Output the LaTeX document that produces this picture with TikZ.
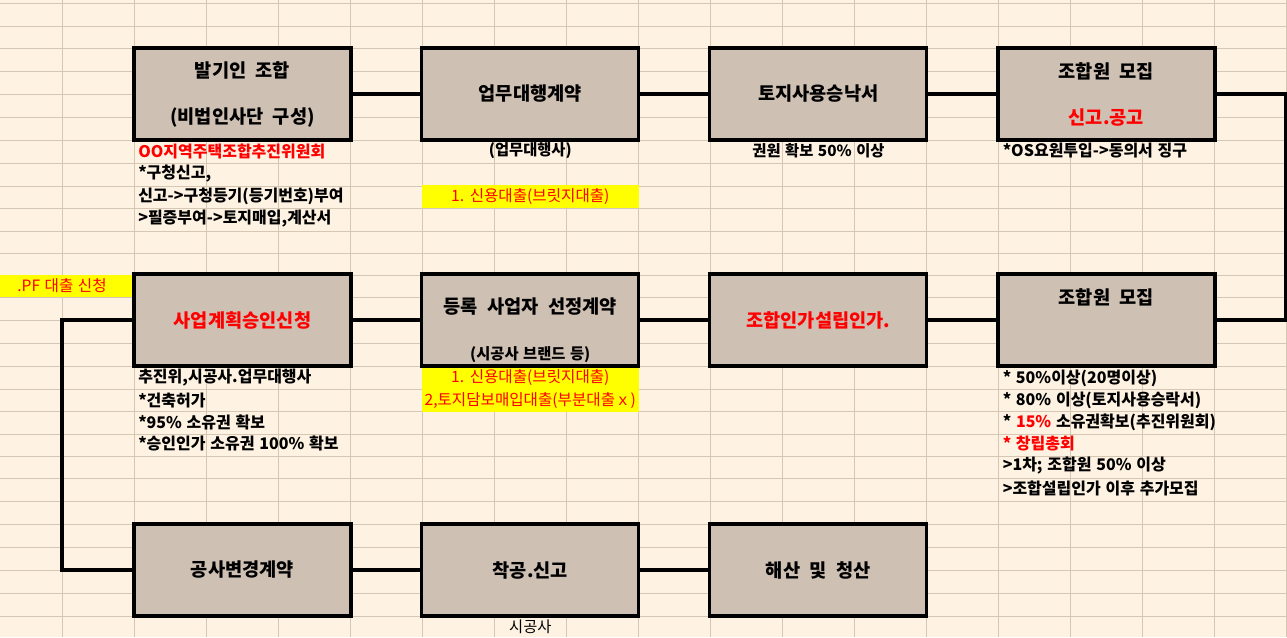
\documentclass[tikz,border=0pt]{standalone}
\usepackage{fontspec}
\setmainfont{Noto Sans CJK KR}[WordSpace=2.2]
\newfontfamily\notefont{Noto Sans CJK KR}[WordSpace=1.3]
\definecolor{bg}{HTML}{FEF2E2}
\definecolor{gridc}{HTML}{D6C7B5}
\definecolor{boxc}{HTML}{CFC0B4}
\definecolor{hlc}{HTML}{FFFF00}
\definecolor{redc}{HTML}{FF0000}
\tikzset{
  stepbox/.style={draw=black, line width=2.5pt, fill=boxc, minimum width=162.75pt, minimum height=69pt, inner sep=0pt},
  big/.style={font=\fontsize{14}{17}\selectfont\bfseries, inner sep=0pt},
  twoline/.style={align=center, font=\fontsize{14}{34.5}\selectfont\bfseries},
  small/.style={font=\notefont\fontsize{11.5}{13}\selectfont\bfseries, inner sep=0pt},
  note/.style={font=\notefont\fontsize{12}{14}\selectfont\bfseries, inner sep=0pt, anchor=west},
  loan/.style={font=\notefont\fontsize{11.7}{13}\selectfont, text=redc, inner sep=0pt},
  plain/.style={font=\notefont\fontsize{11.5}{13}\selectfont, inner sep=0pt},
  conn/.style={line width=2.4pt, line join=miter},
  gridline/.style={gridc, line width=0.75pt}
}
\begin{document}
\begin{tikzpicture}[x=0.75pt,y=-0.75pt]
\useasboundingbox (0,0) rectangle (1287,637);
\fill[bg] (0,0) rectangle (1287,637);
% spreadsheet grid
\foreach \k in {0,...,17} \draw[gridline] ({62+72.05*\k},0) -- ({62+72.05*\k},637);
\foreach \y in {3,26,48,71,94,117,140,163,186,208,231,253,275,297,320,343,366,389,411,434,456,478,501,524,547,570,593,616}
  \draw[gridline] (0,\y) -- (1287,\y);
% yellow cells
\fill[hlc] (422,185) rectangle (638.5,207.5);
\fill[hlc] (0,274.5) rectangle (134,297);
\fill[hlc] (422,367) rectangle (638.5,411.5);
% boxes row 1
\node[stepbox, twoline] (b11) at (242.5,94) {발기인 조합\\(비법인사단 구성)};
\node[stepbox, big] (b12) at (530.3,94) {업무대행계약};
\node[stepbox, big] (b13) at (818.3,94) {토지사용승낙서};
\node[stepbox, twoline] (b14) at (1106.4,94) {조합원 모집\\\textcolor{redc}{신고.공고}};
% boxes row 2
\node[stepbox, big, text=redc] (b21) at (242.5,320) {사업계획승인신청};
\node[stepbox] (b22) at (530.3,320) {};
\node[big] (t22a) at (530.3,306.5) {등록 사업자 선정계약};
\node[small] (t22b) at (530.3,355) {(시공사 브랜드 등)};
\node[stepbox, big, text=redc] (b23) at (818.3,320) {조합인가설립인가.};
\node[stepbox] (b24) at (1106.4,320) {};
\node[big] (t24) at (1106.4,297) {조합원 모집};
% boxes row 3
\node[stepbox, big] (b31) at (242.5,570) {공사변경계약};
\node[stepbox, big] (b32) at (530.3,570) {착공.신고};
\node[stepbox, big] (b33) at (818.3,570) {해산 및 청산};
% connectors
\coordinate (cR) at (1285.5,94);
\coordinate (cL) at (62,320);
\draw[conn] (b11.east) -- (b12.west);
\draw[conn] (b12.east) -- (b13.west);
\draw[conn] (b13.east) -- (b14.west);
\draw[conn] (b14.east) -- (cR) |- (b24.east);
\draw[conn] (b24.west) -- (b23.east);
\draw[conn] (b23.west) -- (b22.east);
\draw[conn] (b22.west) -- (b21.east);
\draw[conn] (b21.west) -- (cL) |- (b31.west);
\draw[conn] (b31.east) -- (b32.west);
\draw[conn] (b32.east) -- (b33.west);
% notes row 1
\node[note, text=redc] (n1a) at (138,151) {OO지역주택조합추진위원회};
\node[note] (n1b) at (138,174) {*구청신고,};
\node[note] (n1c) at (138,196.5) {신고->구청등기(등기번호)부여};
\node[note] (n1d) at (138,219) {>필증부여->토지매입,계산서};
\node[small] (n2) at (530.3,151) {(업무대행사)};
\node[loan] (l2) at (530.3,196.3) {1. 신용대출(브릿지대출)};
\node[small] (n3) at (818.5,151) {권원 확보 50\% 이상};
\node[note] (n4) at (1002.5,151) {*OS요원투입->동의서 징구};
% notes row 2
\node[loan] (pf) at (62,285.7) {.PF 대출 신청};
\node[note] (n5a) at (138,378) {추진위,시공사.업무대행사};
\node[note] (n5b) at (138,400) {*건축허가};
\node[note] (n5c) at (138,422) {*95\% 소유권 확보};
\node[note] (n5d) at (138,443.5) {*승인인가 소유권 100\% 확보};
\node[loan] (l6a) at (530.3,378) {1. 신용대출(브릿지대출)};
\node[loan] (l6b) at (530.3,400.5) {2,토지담보매입대출(부분대출ｘ)};
\node[note] (n7a) at (1002.5,378) {* 50\%이상(20명이상)};
\node[note] (n7b) at (1002.5,400) {* 80\% 이상(토지사용승락서)};
\node[note] (n7c) at (1002.5,422) {* \textcolor{redc}{15\%} 소유권확보(추진위원회)};
\node[note, text=redc] (n7d) at (1002.5,443.5) {* 창립총회};
\node[note] (n7e) at (1002.5,466) {>1차; 조합원 50\% 이상};
\node[note] (n7f) at (1002.5,488) {>조합설립인가 이후 추가모집};
% notes row 3
\node[plain] (n8) at (530.3,627) {시공사};
\end{tikzpicture}
\end{document}
